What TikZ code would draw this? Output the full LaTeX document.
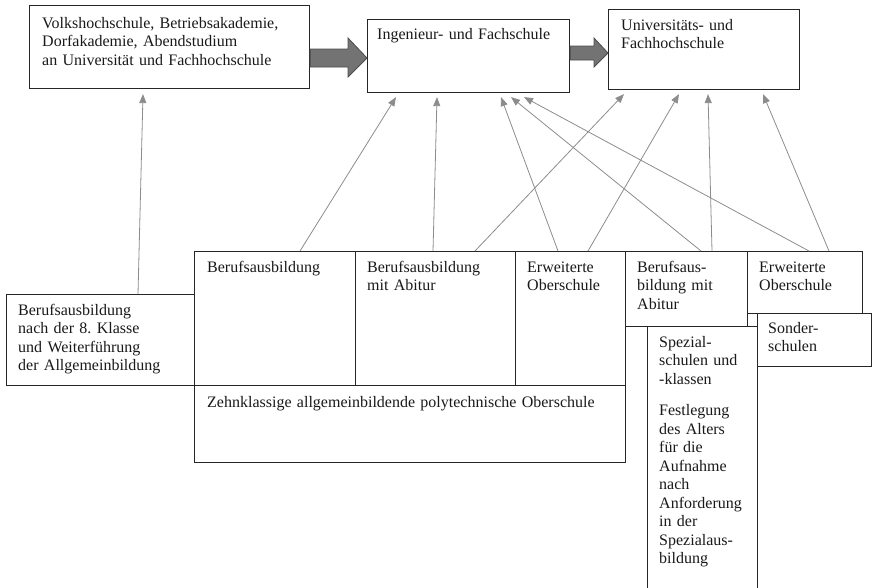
\documentclass[tikz,border=0pt]{standalone}
\usepackage{fontspec}
\setmainfont{Liberation Serif}
\usetikzlibrary{calc,arrows.meta}
\frenchspacing
\tikzset{
  box/.style={draw=black!85, line width=1.1pt, rectangle, inner sep=0pt, anchor=north west},
  txt/.style={anchor=base west, inner sep=0pt, align=left, text width=460pt, text=black!90,
    font=\fontsize{16}{18.5}\selectfont\frenchspacing},
  conn/.style={draw=black!45, line width=0.8pt, -{Triangle[length=9pt,width=7pt]}},
  bigarrow/.style={fill=black!55, draw=black!70, line width=0.8pt}
}
\begin{document}
\begin{tikzpicture}[x=1pt,y=-1pt]
\useasboundingbox (0,0) rectangle (872,587);
\clip (0,0) rectangle (872,587);
% top boxes
\node[box, minimum width=280pt, minimum height=83pt] (A) at (29,5) {};
\node[box, minimum width=202pt, minimum height=73pt] (B) at (367,19) {};
\node[box, minimum width=191pt, minimum height=80pt] (C) at (608,9) {};
% bottom boxes
\node[box, minimum width=188pt, minimum height=91pt] (L) at (6,294) {};
\node[box, minimum width=161pt, minimum height=134pt] (P1) at (194,251) {};
\node[box, minimum width=160pt, minimum height=134pt] (P2) at (355,251) {};
\node[box, minimum width=110pt, minimum height=134pt] (P3) at (515,251) {};
\node[box, minimum width=431pt, minimum height=77pt] (Z) at (194,385) {};
\node[box, minimum width=110pt, minimum height=290pt] (Sp) at (647,326) {};
\node[box, minimum width=122pt, minimum height=75pt, fill=white] (R1) at (625,251) {};
\node[box, minimum width=115pt, minimum height=62pt] (R2) at (747,251) {};
\node[box, minimum width=114pt, minimum height=53pt] (So) at (757,313) {};
% texts
\node[txt] (tA) at (42,28) {Volkshochschule, Betriebsakademie,\\Dorfakademie, Abendstudium\\an Universität und Fachhochschule};
\node[txt] (tB) at (377,39) {Ingenieur- und Fachschule};
\node[txt] (tC) at (621,30) {Universitäts- und\\Fachhochschule};
\node[txt] (tL) at (18,315) {Berufsausbildung\\nach der 8. Klasse\\und Weiterführung\\der Allgemeinbildung};
\node[txt] (tP1) at (207,272) {Berufsausbildung};
\node[txt] (tP2) at (367,272) {Berufsausbildung\\mit Abitur};
\node[txt] (tP3) at (527,272) {Erweiterte\\Oberschule};
\node[txt] (tZ) at (207,407) {Zehnklassige allgemeinbildende polytechnische Oberschule};
\node[txt] (tR1) at (637,272) {Berufsaus-\\bildung mit\\Abitur};
\node[txt] (tR2) at (759,272) {Erweiterte\\Oberschule};
\node[txt] (tSo) at (768,333) {Sonder-\\schulen};
\node[txt] (tSp) at (659,347) {Spezial-\\schulen und\\-klassen\\[13pt]Festlegung\\des Alters\\für die\\Aufnahme\\nach\\Anforderung\\in der\\Spezialaus-\\bildung};
% big arrows
\draw[bigarrow] (A.east |- 0,49) -- (348,49) -- (348,38) -- (B.west |- 0,58) -- (348,77) -- (348,67) -- (A.east |- 0,67) -- cycle;
\draw[bigarrow] (B.east |- 0,46) -- (594,46) -- (594,38) -- (C.west |- 0,53) -- (594,67) -- (594,60) -- (B.east |- 0,60) -- cycle;
% connectors
\draw[conn] ($(L.north west)+(132,0)$) -- ($(A.south west)+(114,5)$);
\draw[conn] ($(P1.north west)+(106,0)$) -- ($(B.south west)+(29,4)$);
\draw[conn] ($(P2.north west)+(78,0)$) -- ($(B.south west)+(70,4)$);
\draw[conn] ($(P3.north west)+(43,0)$) -- ($(B.south west)+(134,4)$);
\draw[conn] ($(R1.north west)+(76,0)$) -- ($(B.south west)+(144,4)$);
\draw[conn] ($(R2.north west)+(62,0)$) -- ($(B.south west)+(157,4)$);
\draw[conn] ($(P2.north west)+(120,0)$) -- ($(C.south west)+(16,4)$);
\draw[conn] ($(P3.north west)+(73,0)$) -- ($(C.south west)+(71,4)$);
\draw[conn] ($(R1.north west)+(87,0)$) -- ($(C.south west)+(100,4)$);
\draw[conn] ($(R2.north west)+(82,0)$) -- ($(C.south west)+(155,4)$);
\end{tikzpicture}
\end{document}
